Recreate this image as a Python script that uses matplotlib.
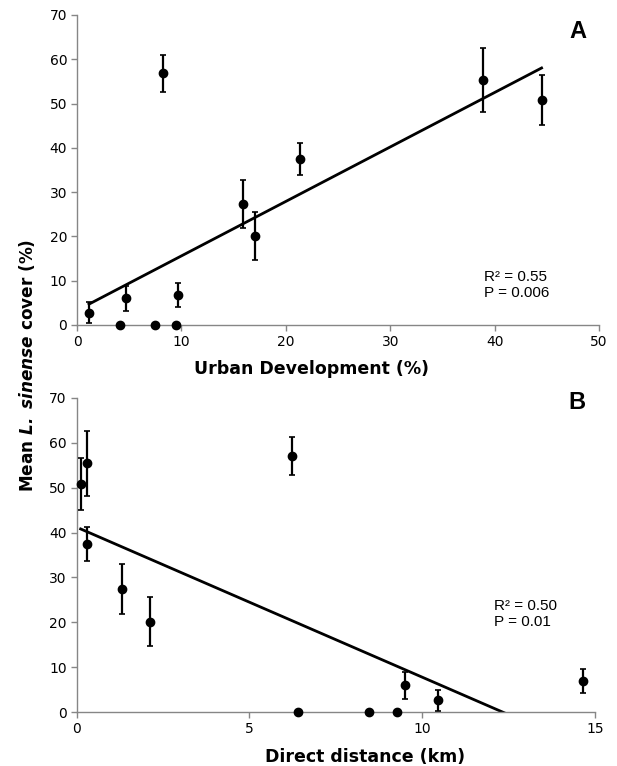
import numpy as np
import matplotlib
matplotlib.use('Agg')
import matplotlib.pyplot as plt

# Panel A: urban development (%) vs mean cover (%)
urban_x = [1.15, 4.1, 4.73, 7.44, 8.21, 9.52, 9.65, 15.94, 17.09, 21.4, 38.9, 44.5]
urban_y = [2.8, 0, 6.0, 0, 56.8, 0, 6.85, 27.4, 20.1, 37.5, 55.3, 50.8]
urban_err = [2.3, 0, 2.9, 0, 4.2, 0, 2.7, 5.4, 5.5, 3.7, 7.3, 5.7]
urban_fit = (1.23, 3.3)  # slope, intercept

# Panel B: direct distance (km) vs mean cover (%)
dist_x = [0.12, 0.29, 0.29, 1.31, 2.13, 6.24, 6.41, 8.46, 9.28, 9.50, 10.44, 14.64]
dist_y = [50.8, 55.4, 37.5, 27.4, 20.2, 57.0, 0, 0, 0, 6.0, 2.7, 6.9]
dist_err = [5.8, 7.3, 3.8, 5.5, 5.5, 4.3, 0, 0, 0, 3.0, 2.3, 2.7]
dist_fit = (-3.34, 41.2)

W, H = 617, 766
fig = plt.figure(figsize=(W / 100, H / 100), dpi=100)

def px(l, t, r, b):
    return [l / W, 1 - b / H, (r - l) / W, (b - t) / H]

axA = fig.add_axes(px(77, 15, 599, 325))
axB = fig.add_axes(px(76.5, 397.7, 595.3, 712.3))

def draw(ax, x, y, err, fit, xlim, xticks, letter, letter_xy, stats, stats_xy):
    ax.errorbar(x, y, yerr=err, fmt='o', color='black', ms=6, elinewidth=1.6,
                capsize=2, capthick=1.2, clip_on=False, zorder=3)
    xs = np.array([min(x), max(x)])
    ax.plot(xs, fit[0] * xs + fit[1], color='black', lw=2, zorder=2)
    ax.set_xlim(*xlim)
    ax.set_ylim(0, 70)
    ax.set_xticks(xticks)
    ax.set_yticks(range(0, 71, 10))
    for s in ['top', 'right']:
        ax.spines[s].set_visible(False)
    for s in ['left', 'bottom']:
        ax.spines[s].set_color('#868686')
        ax.spines[s].set_linewidth(1)
    ax.tick_params(length=4, width=1, color='#868686', labelsize=10, pad=3)
    ax.text(letter_xy[0], letter_xy[1], letter, transform=ax.transAxes, ha='right',
            va='top', fontsize=17, fontweight='bold', family='Liberation Sans')
    ax.text(stats_xy[0], stats_xy[1], stats, transform=ax.transAxes, ha='left', va='top',
            fontsize=11, family='Liberation Sans', linespacing=1.15)

draw(axA, urban_x, urban_y, urban_err, urban_fit, (0, 50), range(0, 51, 10),
     'A', (0.975, 0.985), 'R² = 0.55\nP = 0.006', (0.78, 0.177))
draw(axB, dist_x, dist_y, dist_err, dist_fit, (0, 15), [0, 5, 10, 15],
     'B', (0.982, 1.02), 'R² = 0.50\nP = 0.01', (0.805, 0.360))

fig.text(312 / W, 1 - 369 / H, 'Urban Development (%)', ha='center', va='center',
         fontsize=12.5, fontweight='bold')
fig.text(365 / W, 1 - 757 / H, 'Direct distance (km)', ha='center', va='center',
         fontsize=12.5, fontweight='bold')
fig.text(27 / W, 1 - 365 / H, r'Mean $\mathbfit{L.\ sinense}$ cover (%)', ha='center',
         va='center', rotation=90, fontsize=12.2, fontweight='bold')

fig.savefig('out.png', dpi=100)
